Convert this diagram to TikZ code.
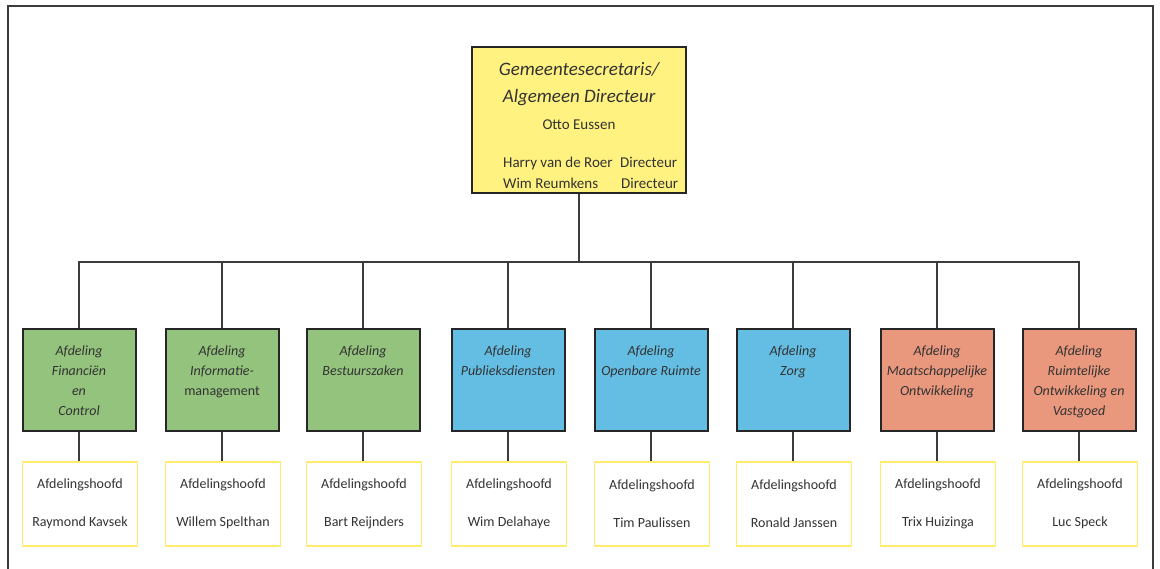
\documentclass[tikz,border=0pt]{standalone}
\usepackage{fontspec}
\setmainfont{Carlito}
\definecolor{topyellow}{RGB}{255,242,128}
\definecolor{dgreen}{RGB}{147,195,125}
\definecolor{dblue}{RGB}{100,190,228}
\definecolor{dsalmon}{RGB}{233,152,126}
\definecolor{hoofdline}{RGB}{255,236,110}
\definecolor{txt}{RGB}{51,51,51}
\definecolor{conn}{RGB}{60,60,60}
\begin{document}
\begin{tikzpicture}[x=1pt,y=-1pt,
  frame/.style={draw=conn,line width=1.6pt},
  topbox/.style={draw=black!85,line width=2pt,fill=topyellow,minimum width=214pt,minimum height=146pt,inner sep=0pt},
  toptitle/.style={anchor=base,text=txt,font=\fontsize{19}{22}\selectfont\itshape,inner sep=0pt},
  topname/.style={anchor=base,text=txt,font=\fontsize{15}{18}\selectfont,inner sep=0pt},
  deptbox/.style={draw=black!85,line width=2pt,minimum width=113pt,minimum height=102pt,inner sep=0pt},
  dtext/.style={anchor=north,align=center,text=txt,font=\fontsize{14}{20}\selectfont\itshape,inner sep=0pt},
  hoofd/.style={draw=hoofdline,line width=1.5pt,fill=white,minimum width=115pt,minimum height=84pt,align=center,text=txt,font=\fontsize{14}{38}\selectfont,inner sep=0pt},
  conn/.style={draw=conn,line width=1.2pt}]
\useasboundingbox (0,0) rectangle (1160,569);
\draw[frame] (8,590) -- (8,6) -- (1153,6) -- (1153,590);
\coordinate (bus) at (0,262);
\node[topbox] (top) at (579,120) {};
\node[toptitle] (g1) at (579,76) {Gemeentesecretaris/};
\node[toptitle] (g2) at (579,103) {Algemeen Directeur};
\node[topname] (g3) at (579,130) {Otto Eussen};
\node[topname,anchor=base west] (g4) at (503,168) {Harry van de Roer};
\node[topname,anchor=base west] (g5) at (620,168) {Directeur};
\node[topname,anchor=base west] (g6) at (503,189) {Wim Reumkens};
\node[topname,anchor=base west] (g7) at (621,189) {Directeur};
\foreach \x/\c/\t/\n [count=\i] in {
  79/dgreen/{Afdeling\\Financiën\\en\\Control}/{Raymond Kavsek},
  222/dgreen/{Afdeling\\Informatie-\\{\upshape management}}/{Willem Spelthan},
  363/dgreen/{Afdeling\\Bestuurszaken}/{Bart Reijnders},
  508/dblue/{Afdeling\\Publieksdiensten}/{Wim Delahaye},
  651/dblue/{Afdeling\\Openbare Ruimte}/{Tim Paulissen},
  793/dblue/{Afdeling\\Zorg}/{Ronald Janssen},
  937/dsalmon/{Afdeling\\Maatschappelijke\\Ontwikkeling}/{Trix Huizinga},
  1079/dsalmon/{Afdeling\\Ruimtelijke\\Ontwikkeling en\\Vastgoed}/{Luc Speck}} {
  \node[deptbox,fill=\c] (d\i) at (\x,380) {};
  \node[dtext] (t\i) at (\x,346) {\t};
  \node[hoofd] (h\i) at (\x+1,504) {Afdelingshoofd\\\n};
  \draw[conn] (top.south) -- (top.south |- bus) -| (d\i.north);
  \draw[conn] (d\i.south) -- (d\i.south |- h\i.north);
}
\end{tikzpicture}
\end{document}
